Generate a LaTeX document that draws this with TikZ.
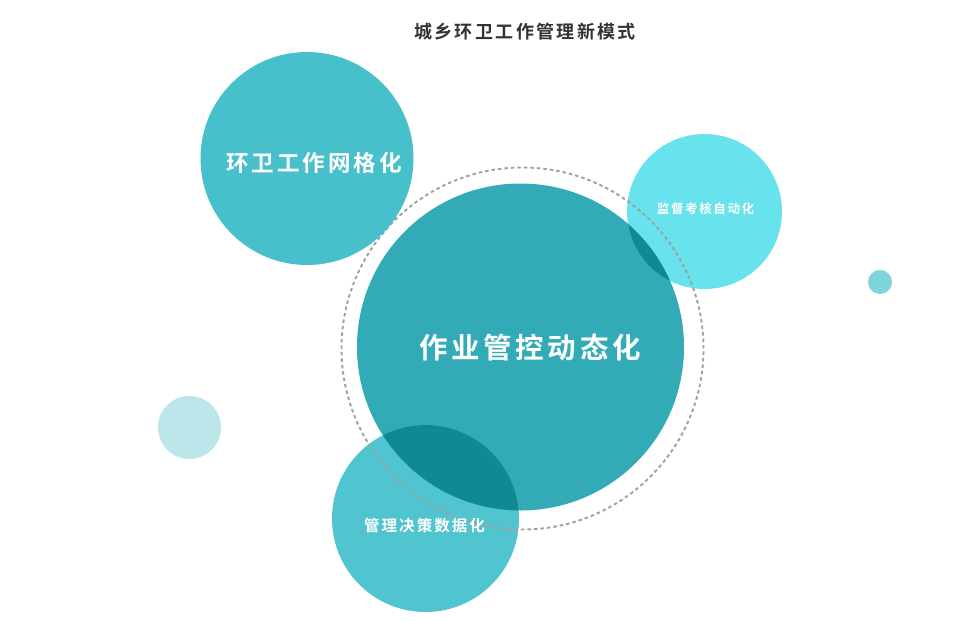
\documentclass[tikz,border=0pt]{standalone}
\usepackage{fontspec}
\newfontfamily\cjk[LetterSpace=13,BoldFont={Noto Sans CJK SC Bold}]{Noto Sans CJK SC}
\usetikzlibrary{positioning}
\definecolor{bigc}{HTML}{33ABB6}
\definecolor{gridc}{HTML}{48C0CB}
\definecolor{autoc}{HTML}{68E3EE}
\definecolor{datac}{HTML}{50C4CF}
\definecolor{palec}{HTML}{BDE6EA}
\definecolor{dotc}{HTML}{7DD4DC}
\definecolor{lensc}{HTML}{0F8A94}
\definecolor{ringc}{HTML}{A0A0A0}
\definecolor{titlec}{HTML}{333333}
\begin{document}
\begin{tikzpicture}
    [x=1pt, y=-1pt,
      ball/.style={circle, inner sep=0pt, minimum size=#1},
      word/.style={text=white, inner sep=0pt},
      ring/.style={draw=ringc, line width=1.9pt, dash pattern=on 3.5pt off 3pt},
     ]
    \useasboundingbox (0,0) rectangle (980,621);
    \node[ball=327pt, fill=bigc] (ctrl) at (520.5,347) {};
    \node[ball=155pt, fill=autoc] (audit) at (704.5,211.5) {};
    \node[ball=187pt, fill=datac] (decide) at (425.5,518.5) {};
    % darker lens where the circles overlap
    \begin{scope}
      \clip (ctrl.center) circle[radius=163.5pt];
      \fill[lensc] (audit.center) circle[radius=77.5pt];
      \fill[lensc] (decide.center) circle[radius=93.5pt];
    \end{scope}
    \draw[ring] (522.5,348.5) circle[radius=181pt];
    \node[ball=213pt, fill=gridc] (grid) at (307,158.5) {};
    \node[ball=63pt, fill=palec] (pale) at (189.5,427.5) {};
    \node[ball=24pt, fill=dotc] (dot) at (880,282) {};
    % labels
    \node[inner sep=0pt, text=titlec, font=\cjk\bfseries\fontsize{18}{18}\selectfont] (title) at (525,32) {城乡环卫工作管理新模式};
    \node[word, font=\cjk\bfseries\fontsize{28.5}{28.5}\selectfont] (ctrltext) at (530,348) {作业管控动态化};
    \node[word, font=\cjk\bfseries\fontsize{22.5}{22.5}\selectfont] (gridtext) at (314,163) {环卫工作网格化};
    \node[word, font=\cjk\bfseries\fontsize{12.5}{12.5}\selectfont] (audittext) at (705.5,209) {监督考核自动化};
    \node[word, font=\cjk\bfseries\fontsize{15.5}{15.5}\selectfont] (decidetext) at (424.5,526) {管理决策数据化};
\end{tikzpicture}
\end{document}
